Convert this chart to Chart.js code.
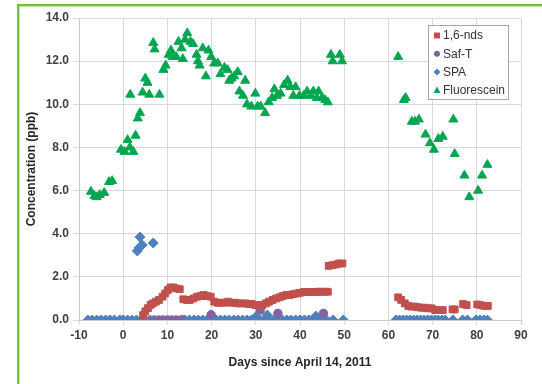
<!DOCTYPE html>
<html><head><meta charset="utf-8">
<script src="https://cdn.jsdelivr.net/npm/chart.js@4.4.1/dist/chart.umd.min.js"></script>
<style>
html,body{margin:0;padding:0;background:#fff;width:542px;height:384px;overflow:hidden;}
#frame{position:absolute;left:17px;top:4px;width:600px;height:420px;border-left:2px solid #70bf45;border-top:2px solid #70bf45;box-shadow:inset 1px 1px 0 #c4e5b0;box-sizing:border-box;}
#wrap{position:absolute;left:0;top:0;width:542px;height:384px;}
</style></head><body>
<div id="frame"></div>
<div id="wrap"><canvas id="c" width="542" height="384"></canvas></div>
<script>
// ---- data ----
const seriesNames = ['1,6-nds', 'Saf-T', 'SPA', 'Fluorescein'];
const xTicks = [-10, 0, 10, 20, 30, 40, 50, 60, 70, 80, 90];
const yTicks = [0, 2, 4, 6, 8, 10, 12, 14];

const ndsDays = [4.5,5.0,5.6,6.2,6.7,7.4,8.1,8.9,9.5,10.1,10.7,11.4,12.0,12.8,
  13.6,14.4,15.1,15.9,16.7,17.5,18.2,19.0,19.8,20.6,
  21.4,22.1,22.9,23.7,24.5,25.3,26.0,26.8,27.6,28.4,
  29.1,29.9,30.7,31.5,32.3,33.0,33.8,34.6,35.4,36.1,
  36.9,37.7,38.5,39.3,40.0,40.8,41.6,42.4,43.2,43.9,
  44.7,45.5,46.3,
  46.5,47.3,48.1,48.8,49.6,
  62.2,62.9,63.7,64.5,65.2,66.0,66.7,67.5,68.3,69.1,69.8,70.6,71.5,72.3,
  74.5,75.0,76.9,77.7,80.1,80.9,81.7,82.5];
const ndsConc = [0.23,0.4,0.55,0.7,0.77,0.85,0.93,1.08,1.23,1.39,1.51,1.51,1.46,1.43,
  0.96,0.93,0.93,1.0,1.08,1.11,1.16,1.11,1.08,0.85,
  0.8,0.8,0.8,0.85,0.8,0.8,0.77,0.77,0.77,0.74,
  0.74,0.69,0.69,0.69,0.77,0.85,0.93,1.0,1.05,1.11,
  1.16,1.16,1.2,1.23,1.26,1.3,1.3,1.3,1.3,1.31,
  1.31,1.31,1.31,
  2.51,2.54,2.57,2.62,2.62,
  1.05,0.93,0.77,0.65,0.62,0.62,0.59,0.57,0.57,0.54,0.54,0.46,0.46,0.46,
  0.49,0.49,0.74,0.69,0.72,0.69,0.65,0.65];

const saftDays = [7,8,9,10,11,12,13,19.9,31.0,35.0,45.3];
const saftConc = [0,0,0,0,0,0,0,0.25,0.46,0.31,0.31];

const spaDays = [-8,-7,-6,-5,-4,-3,-2,
  -0.8,0,1,2,3,4,5,6,
  3.2,3.6,3.8,4.3,6.8,
  13.5,14,15,16,17,18,19,20,21,22,23,24,25,26,27,28,29,30,31,32,32.6,33,34,35,36,37,38,39,40,41,42,43,43.6,44,45,46,
  47.5,49.8,
  61.7,62.5,63.3,64.1,64.9,65.7,66.5,67.3,68.1,68.9,69.7,70.5,71.3,72.1,72.8,
  74.6,76.8,77.9,79.8,80.7,81.6,82.4];
const spaConc = [0,0,0,0,0,0,0,
  0,0,0,0,0,0,0,0,
  3.2,3.35,3.85,3.48,3.57,
  0,0,0,0,0,0,0,0,0,0,0,0,0,0,0,0,0,0.15,0,0,0.23,0,0,0,0,0,0,0,0,0,0,0,0.18,0,0,0,
  0,0,
  0,0,0,0,0,0,0,0,0,0,0,0,0,0,0,
  0,0,0,0,0,0,0];

const fluoDays = [-7.3,-6.5,-6.0,-5.3,-4.3,-3.2,-2.5,-0.5,0.3,1.0,
  1.5,2.3,2.8,1.6,3.3,3.8,4.4,5.0,5.5,5.9,
  6.8,7.1,8.2,9.1,9.6,10.3,10.8,11.2,12.0,12.5,
  13.2,13.5,14.0,14.5,15.2,15.8,16.6,16.9,18.0,17.3,
  18.7,19.3,19.9,20.6,21.4,22.0,22.9,23.6,24.0,24.5,
  25.1,25.9,26.3,27.1,27.6,28.0,29.0,29.9,30.4,31.1,
  32.1,32.9,33.7,34.2,34.8,35.6,36.4,37.2,37.8,38.5,
  39.0,39.9,40.8,41.6,42.4,43.0,43.8,44.2,45.0,45.7,
  46.3,47.0,47.4,49.0,49.5,62.2,63.5,63.9,65.3,66.0,
  66.9,68.4,69.4,70.3,71.3,72.3,74.7,75.0,77.2,78.3,
  80.3,81.2,82.4];
const fluoConc = [5.95,5.75,5.7,5.8,5.9,6.4,6.45,7.9,7.8,8.35,
  8.0,7.8,8.55,10.45,9.35,9.6,10.55,11.2,11.0,10.45,
  12.85,12.55,10.45,11.6,11.8,12.3,12.5,12.2,12.2,12.9,
  12.6,12.1,13.0,13.3,12.9,12.8,12.3,12.0,12.6,11.8,
  11.3,12.5,12.2,11.9,11.9,11.4,11.7,11.6,11.1,11.2,
  11.3,11.5,10.6,10.4,11.1,10.0,9.9,10.5,9.9,9.9,
  9.6,10.1,10.3,10.7,10.4,10.5,10.9,11.1,10.8,10.4,
  10.8,10.4,10.4,10.6,10.4,10.6,10.3,10.6,10.3,10.2,
  10.1,12.3,12.0,12.3,12.0,12.2,10.2,10.3,9.2,9.2,
  9.3,8.6,8.2,7.9,8.4,8.5,9.3,7.7,6.7,5.7,
  6.0,6.7,7.2];

// ---- build ----
const pts = (xs, ys) => xs.map((x, i) => ({x: x, y: ys[i]}));
const RED = '#C0504D', PURPLE = '#8064A2', BLUE = '#4F81BD', GREEN = '#00A650';
const FONT = '"Liberation Sans", Arial, sans-serif';

const legendPlugin = {
  id: 'boxLegend',
  afterDraw(chart) {
    const ctx = chart.ctx;
    ctx.save();
    const x0 = 428.5, y0 = 25.5, w = 80, h = 74;
    ctx.fillStyle = '#fff'; ctx.fillRect(x0, y0, w, h);
    ctx.strokeStyle = '#a6a6a6'; ctx.lineWidth = 1; ctx.strokeRect(x0, y0, w, h);
    ctx.font = '12px ' + FONT;
    ctx.textBaseline = 'middle';
    chart.data.datasets.forEach((ds, i) => {
      const y = 35.5 + i * 18.2, mx = 437;
      ctx.fillStyle = ds.backgroundColor;
      ctx.beginPath();
      if (ds.pointStyle === 'rect') { ctx.rect(mx - 3, y - 3, 6, 6); }
      else if (ds.pointStyle === 'circle') { ctx.arc(mx, y, 3, 0, Math.PI * 2); }
      else if (ds.pointStyle === 'rectRot') { ctx.moveTo(mx, y - 3.5); ctx.lineTo(mx + 3.5, y); ctx.lineTo(mx, y + 3.5); ctx.lineTo(mx - 3.5, y); ctx.closePath(); }
      else { ctx.moveTo(mx, y - 3.5); ctx.lineTo(mx + 3.5, y + 3); ctx.lineTo(mx - 3.5, y + 3); ctx.closePath(); }
      ctx.fill();
      ctx.fillStyle = '#333';
      ctx.fillText(ds.label, 443, y + 0.5);
    });
    ctx.restore();
  }
};

new Chart(document.getElementById('c'), {
  type: 'scatter',
  data: {
    datasets: [
      {label: seriesNames[0], data: pts(ndsDays, ndsConc), pointStyle: 'rect', pointRadius: 4.8, backgroundColor: RED, borderColor: RED, borderWidth: 1},
      {label: seriesNames[1], data: pts(saftDays, saftConc), pointStyle: 'circle', pointRadius: 4.2, backgroundColor: PURPLE, borderColor: PURPLE, borderWidth: 1},
      {label: seriesNames[2], data: pts(spaDays, spaConc), pointStyle: 'rectRot', pointRadius: 5, backgroundColor: BLUE, borderColor: BLUE, borderWidth: 1},
      {label: seriesNames[3], data: pts(fluoDays, fluoConc), pointStyle: 'triangle', pointRadius: 5.2, backgroundColor: GREEN, borderColor: GREEN, borderWidth: 1}
    ]
  },
  options: {
    responsive: false, animation: false, devicePixelRatio: 1,
    layout: {padding: {left: 0, top: 18, right: 21, bottom: 0}},
    plugins: {legend: {display: false}, tooltip: {enabled: false}},
    scales: {
      x: {
        type: 'linear', min: xTicks[0], max: xTicks[xTicks.length - 1],
        afterBuildTicks: s => { s.ticks = xTicks.map(v => ({value: v})); },
        afterFit: s => { s.height = 64; },
        ticks: {font: {family: FONT, size: 12, weight: 'bold'}, color: '#404040', padding: 3, maxRotation: 0, autoSkip: false},
        grid: {color: '#d9d9d9', tickLength: 5},
        border: {color: '#c8c8c8'},
        title: {display: true, text: 'Days since April 14, 2011', font: {family: FONT, size: 12, weight: 'bold'}, color: '#262626', padding: {top: 0, bottom: 14}}
      },
      y: {
        min: yTicks[0], max: yTicks[yTicks.length - 1],
        afterBuildTicks: s => { s.ticks = yTicks.map(v => ({value: v})); },
        afterFit: s => { s.width = 79; },
        ticks: {font: {family: FONT, size: 12, weight: 'bold'}, color: '#404040', padding: 4, callback: v => Number(v).toFixed(1)},
        grid: {color: '#d9d9d9', tickLength: 6},
        border: {color: '#c8c8c8'},
        title: {display: true, text: 'Concentration (ppb)', font: {family: FONT, size: 12, weight: 'bold'}, color: '#262626', padding: {top: 24, bottom: 0}}
      }
    }
  },
  plugins: [legendPlugin]
});
</script></body></html>
